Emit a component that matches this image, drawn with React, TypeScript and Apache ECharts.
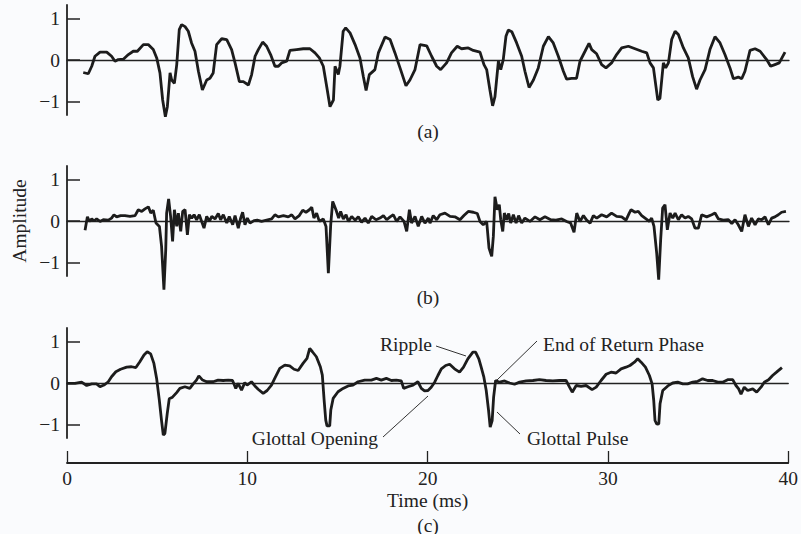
import React, { useEffect, useRef } from "react";
import * as echarts from "echarts";

// Time axis ticks (ms)
const timeTicks = [0, 10, 20, 30, 40];
const ampTicks = [-1, 0, 1];

// (a) speech waveform: [time (ms), amplitude]
const waveA: [number, number][] = [
  [0.9, -0.3], [1.18, -0.33], [1.37, -0.15], [1.55, 0.09], [1.83, 0.19], [2.2, 0.19], [2.47, 0.09], [2.66, -0.03],
  [2.84, 0.01], [3.12, 0.02], [3.4, 0.13], [3.67, 0.21], [3.9, 0.21], [4.23, 0.37], [4.5, 0.37], [4.78, 0.25],
  [4.97, 0.05], [5.15, -0.31], [5.3, -0.96], [5.45, -1.36], [5.56, -1.12], [5.71, -0.31], [5.8, -0.48], [5.95, -0.56],
  [6.08, -0.11], [6.22, 0.73], [6.35, 0.85], [6.54, 0.8], [6.72, 0.69], [6.9, 0.41], [7.09, 0.21], [7.28, -0.27],
  [7.5, -0.72], [7.74, -0.48], [7.92, -0.44], [8.1, -0.31], [8.29, 0.37], [8.57, 0.51], [8.85, 0.49], [9.12, 0.25],
  [9.31, -0.07], [9.55, -0.52], [9.77, -0.52], [10.05, -0.6], [10.23, -0.35], [10.42, 0.09], [10.6, 0.25], [10.84, 0.43],
  [11.06, 0.33], [11.28, 0.13], [11.52, -0.15], [11.71, -0.15], [11.89, -0.07], [12.17, -0.03], [12.35, 0.23], [12.72, 0.25],
  [13.09, 0.27], [13.46, 0.27], [13.74, 0.17], [13.98, 0.05], [14.2, -0.15], [14.39, -0.64], [14.57, -1.12], [14.76, -0.96],
  [14.85, -0.15], [15.03, -0.35], [15.12, -0.15], [15.3, 0.69], [15.44, 0.77], [15.68, 0.65], [15.96, 0.37], [16.23, 0.05],
  [16.42, -0.4], [16.57, -0.73], [16.75, -0.35], [17.06, -0.23], [17.25, 0.17], [17.62, 0.55], [17.9, 0.49], [18.17, 0.17],
  [18.45, -0.19], [18.78, -0.62], [19.0, -0.48], [19.28, -0.23], [19.56, 0.37], [19.93, 0.34], [20.2, 0.09], [20.48, -0.15],
  [20.7, -0.23], [21.03, -0.07], [21.3, 0.17], [21.62, 0.33], [21.86, 0.27], [22.23, 0.29], [22.51, 0.23], [22.88, 0.19],
  [23.1, -0.11], [23.25, -0.23], [23.43, -0.72], [23.58, -1.1], [23.71, -0.88], [23.9, -0.03], [24.03, -0.23], [24.17, 0.01],
  [24.32, 0.57], [24.45, 0.72], [24.64, 0.68], [24.91, 0.41], [25.19, 0.09], [25.37, -0.27], [25.6, -0.66], [25.84, -0.48],
  [26.11, -0.19], [26.39, 0.33], [26.67, 0.56], [26.94, 0.41], [27.22, 0.09], [27.5, -0.27], [27.68, -0.46], [27.96, -0.44],
  [28.23, -0.44], [28.42, -0.03], [28.7, 0.21], [28.92, 0.4], [29.07, 0.25], [29.34, 0.15], [29.62, -0.11], [29.86, -0.19],
  [30.17, -0.07], [30.45, 0.13], [30.73, 0.29], [31.1, 0.33], [31.47, 0.27], [31.84, 0.21], [32.12, 0.17], [32.3, -0.07],
  [32.49, -0.19], [32.63, -0.64], [32.73, -0.96], [32.85, -0.92], [33.04, -0.07], [33.17, -0.19], [33.32, -0.07], [33.5, 0.49],
  [33.69, 0.69], [33.87, 0.61], [34.15, 0.29], [34.42, 0.05], [34.66, -0.4], [34.88, -0.7], [35.07, -0.48], [35.35, -0.23],
  [35.62, 0.25], [35.9, 0.56], [36.18, 0.41], [36.45, 0.13], [36.73, -0.19], [36.92, -0.45], [37.19, -0.41], [37.38, -0.45],
  [37.56, -0.27], [37.84, 0.23], [38.12, 0.27], [38.4, 0.21], [38.76, 0.01], [38.98, -0.15], [39.22, -0.11], [39.46, -0.07],
  [39.78, 0.19],
];

// (b) residual / derivative signal
const waveB: [number, number][] = [
  [1.0, -0.22], [1.13, 0.1], [1.24, -0.01], [1.37, 0.05], [1.5, 0.0], [1.64, 0.05], [1.83, -0.01], [2.01, 0.03],
  [2.29, 0.02], [2.47, 0.07], [2.6, 0.15], [2.75, 0.1], [2.97, 0.13], [3.21, 0.13], [3.49, 0.11], [3.77, 0.13],
  [3.95, 0.27], [4.14, 0.23], [4.32, 0.29], [4.51, 0.34], [4.64, 0.19], [4.78, 0.26], [4.93, -0.05], [5.12, -0.13],
  [5.24, -0.61], [5.37, -1.65], [5.47, -0.69], [5.52, 0.19], [5.63, 0.53], [5.74, 0.11], [5.85, -0.49], [5.95, 0.27],
  [6.08, -0.13], [6.17, 0.19], [6.3, -0.25], [6.41, 0.23], [6.54, 0.27], [6.67, -0.33], [6.78, 0.15], [6.91, 0.07],
  [7.04, 0.15], [7.18, 0.03], [7.33, 0.15], [7.46, -0.01], [7.59, -0.17], [7.74, 0.11], [7.89, -0.01], [8.02, 0.11],
  [8.2, 0.05], [8.38, 0.18], [8.51, 0.03], [8.66, 0.15], [8.85, -0.05], [8.99, 0.11], [9.18, -0.09], [9.31, 0.13],
  [9.49, -0.17], [9.62, 0.07], [9.73, 0.21], [9.86, -0.09], [9.99, 0.07], [10.14, -0.05], [10.36, 0.01], [10.54, 0.02],
  [10.78, -0.01], [11.06, 0.02], [11.34, 0.05], [11.52, 0.15], [11.71, 0.1], [11.99, 0.13], [12.26, 0.1], [12.45, 0.15],
  [12.63, 0.05], [12.87, 0.13], [13.06, 0.26], [13.24, 0.21], [13.43, 0.27], [13.56, 0.33], [13.68, 0.07], [13.83, 0.19],
  [13.98, -0.01], [14.2, 0.05], [14.35, -0.13], [14.48, -1.25], [14.61, -0.09], [14.72, 0.47], [14.9, 0.27], [15.05, 0.07],
  [15.16, 0.23], [15.31, 0.05], [15.46, 0.15], [15.59, -0.01], [15.77, 0.11], [15.96, 0.02], [16.14, 0.1], [16.32, -0.03],
  [16.51, 0.07], [16.69, -0.05], [16.88, 0.11], [17.12, 0.03], [17.34, 0.07], [17.53, 0.13], [17.71, 0.03], [17.9, 0.1],
  [18.08, 0.15], [18.26, -0.01], [18.45, 0.1], [18.67, -0.01], [18.82, -0.25], [18.97, 0.27], [19.09, -0.05], [19.28, 0.11],
  [19.46, -0.13], [19.65, 0.11], [19.83, -0.05], [20.02, 0.07], [20.11, -0.05], [20.29, 0.13], [20.48, 0.03], [20.66, 0.15],
  [20.94, 0.19], [21.22, 0.11], [21.49, 0.1], [21.77, 0.03], [21.99, 0.13], [22.23, 0.23], [22.51, 0.21], [22.73, 0.18],
  [22.88, -0.01], [23.06, -0.09], [23.25, -0.01], [23.38, -0.65], [23.53, -0.85], [23.62, -0.37], [23.71, 0.58], [23.84, 0.27],
  [23.95, 0.39], [24.03, 0.03], [24.14, -0.25], [24.23, 0.19], [24.36, 0.03], [24.47, 0.18], [24.58, -0.05], [24.73, 0.15],
  [24.88, -0.05], [25.02, 0.13], [25.19, -0.05], [25.37, 0.07], [25.65, -0.01], [25.93, 0.1], [26.2, 0.03], [26.48, 0.1],
  [26.8, 0.03], [27.09, 0.02], [27.41, 0.05], [27.68, -0.01], [27.9, -0.05], [28.09, -0.27], [28.24, 0.19], [28.42, -0.01],
  [28.61, 0.13], [28.79, 0.02], [28.98, -0.05], [29.16, 0.13], [29.35, 0.07], [29.62, 0.15], [29.9, 0.1], [30.17, 0.19],
  [30.45, 0.11], [30.73, 0.1], [30.97, 0.02], [31.15, 0.19], [31.25, 0.27], [31.47, 0.21], [31.65, 0.23], [31.84, 0.13],
  [32.08, 0.05], [32.26, -0.01], [32.39, 0.07], [32.52, -0.13], [32.67, -0.77], [32.78, -1.41], [32.89, -0.45], [33.0, 0.31],
  [33.13, 0.39], [33.26, -0.21], [33.41, 0.19], [33.56, 0.07], [33.69, 0.19], [33.87, 0.03], [34.05, 0.15], [34.24, 0.07],
  [34.42, 0.11], [34.61, 0.05], [34.79, -0.17], [34.98, -0.17], [35.16, 0.15], [35.44, 0.1], [35.72, 0.15], [35.9, 0.19],
  [36.09, 0.05], [36.36, 0.02], [36.64, 0.03], [36.83, -0.06], [37.01, 0.03], [37.19, -0.09], [37.38, -0.25], [37.56, 0.15],
  [37.75, -0.13], [37.93, 0.07], [38.12, -0.09], [38.3, 0.05], [38.49, 0.03], [38.67, 0.1], [38.86, -0.09], [39.04, 0.07],
  [39.22, 0.1], [39.41, 0.15], [39.59, 0.21], [39.83, 0.23],
];

// (c) glottal flow derivative estimate
const waveC: [number, number][] = [
  [0.0, -0.01], [0.44, -0.01], [0.81, 0.02], [1.09, -0.06], [1.37, -0.02], [1.64, -0.02], [1.83, -0.09], [2.05, -0.05],
  [2.29, 0.03], [2.47, 0.15], [2.71, 0.27], [2.97, 0.33], [3.31, 0.38], [3.58, 0.39], [3.82, 0.37], [4.04, 0.51],
  [4.27, 0.67], [4.45, 0.75], [4.64, 0.7], [4.82, 0.47], [4.97, 0.11], [5.12, -0.41], [5.24, -0.89], [5.34, -1.25],
  [5.43, -1.21], [5.56, -0.73], [5.67, -0.38], [5.85, -0.34], [6.08, -0.23], [6.26, -0.13], [6.54, -0.09], [6.81, -0.13],
  [7.0, -0.02], [7.18, 0.07], [7.31, 0.17], [7.52, 0.07], [7.74, 0.03], [8.1, 0.03], [8.38, 0.07], [8.66, 0.06],
  [8.94, 0.07], [9.18, 0.06], [9.36, -0.13], [9.49, -0.01], [9.68, -0.17], [9.86, 0.01], [9.99, -0.05], [10.23, 0.03],
  [10.42, -0.07], [10.6, -0.15], [10.88, -0.25], [11.1, -0.18], [11.34, -0.05], [11.52, 0.11], [11.8, 0.35], [12.08, 0.43],
  [12.35, 0.41], [12.59, 0.33], [12.82, 0.3], [13.09, 0.47], [13.31, 0.59], [13.46, 0.83], [13.61, 0.75], [13.83, 0.63],
  [14.05, 0.39], [14.16, 0.19], [14.26, -0.41], [14.35, -0.89], [14.42, -1.03], [14.57, -1.03], [14.63, -0.65], [14.76, -0.37],
  [15.03, -0.21], [15.31, -0.13], [15.59, -0.07], [15.86, -0.05], [16.14, 0.03], [16.51, 0.07], [16.88, 0.07], [17.16, 0.11],
  [17.43, 0.07], [17.71, 0.11], [17.99, 0.06], [18.26, 0.07], [18.54, 0.05], [18.67, -0.13], [18.91, -0.09], [19.19, -0.05],
  [19.46, 0.03], [19.65, -0.13], [19.83, -0.19], [20.02, -0.18], [20.2, -0.1], [20.39, 0.02], [20.57, 0.18], [20.76, 0.34],
  [21.0, 0.42], [21.22, 0.45], [21.49, 0.34], [21.77, 0.26], [21.99, 0.38], [22.23, 0.58], [22.51, 0.74], [22.66, 0.74],
  [22.84, 0.58], [22.97, 0.38], [23.12, 0.14], [23.25, -0.18], [23.38, -0.66], [23.47, -1.06], [23.58, -0.9], [23.66, -0.34],
  [23.77, 0.06], [23.99, 0.02], [24.27, 0.05], [24.54, 0.0], [24.82, -0.03], [25.1, 0.02], [25.47, 0.05], [25.84, 0.06],
  [26.2, 0.08], [26.57, 0.06], [26.94, 0.05], [27.31, 0.06], [27.68, 0.06], [27.87, -0.1], [28.02, -0.22], [28.24, -0.06],
  [28.51, -0.08], [28.79, -0.06], [29.12, -0.16], [29.35, -0.1], [29.62, 0.06], [29.9, 0.21], [30.17, 0.26], [30.45, 0.24],
  [30.73, 0.34], [31.0, 0.38], [31.22, 0.42], [31.47, 0.5], [31.65, 0.58], [31.84, 0.5], [32.08, 0.38], [32.3, 0.18],
  [32.45, -0.02], [32.54, -0.42], [32.61, -0.9], [32.71, -0.99], [32.82, -0.98], [32.89, -0.5], [33.04, -0.18], [33.32, -0.07],
  [33.59, 0.0], [33.87, 0.02], [34.15, -0.02], [34.42, -0.02], [34.7, 0.02], [34.98, 0.04], [35.25, 0.1], [35.53, 0.06],
  [35.81, 0.06], [36.09, 0.02], [36.36, 0.02], [36.64, 0.08], [36.92, 0.08], [37.1, -0.06], [37.25, -0.14], [37.38, -0.27],
  [37.56, -0.1], [37.75, -0.18], [38.03, -0.14], [38.25, -0.22], [38.49, -0.1], [38.67, 0.02], [38.91, 0.08], [39.13, 0.18],
  [39.35, 0.26], [39.65, 0.37],
];

const panelLabels = ["(a)", "(b)", "(c)"];
const annotations = ["Ripple", "End of Return Phase", "Glottal Opening", "Glottal Pulse"];

const FONT = "Liberation Serif";
const FS = 19.5;
const INK = "#222222";
const BG = "#fafbfd";

export default function App() {
  const ref = useRef<HTMLDivElement>(null);
  useEffect(() => {
    if (!ref.current) return;
    const chart = echarts.init(ref.current, null, { renderer: "svg" });
    const grids = [
      { left: 67, width: 722, top: 5, height: 110 },
      { left: 67, width: 722, top: 166, height: 110 },
      { left: 67, width: 722, top: 328, height: 110 },
    ];
    const zeroX = (i: number) => ({
      gridIndex: i,
      type: "value",
      min: 0,
      max: 40,
      position: "bottom",
      axisLine: { show: true, onZero: true, lineStyle: { color: INK, width: 1.3 } },
      axisTick: { show: false },
      axisLabel: { show: false },
      splitLine: { show: false },
    });
    const yAx = (i: number) => ({
      gridIndex: i,
      type: "value",
      min: -1.32,
      max: 1.32,
      axisLine: { show: true, onZero: false, lineStyle: { color: INK, width: 1.8 } },
      axisTick: { show: true, inside: true, length: 13, customValues: ampTicks, lineStyle: { color: INK, width: 1.5 } },
      axisLabel: {
        show: true,
        customValues: ampTicks,
        margin: 7,
        color: INK,
        fontFamily: FONT,
        fontSize: FS,
        formatter: (v: number) => (v < 0 ? "\u2212" + Math.abs(v) : String(v)),
      },
      splitLine: { show: false },
    });
    const lineSeries = (i: number, data: [number, number][]) => ({
      type: "line",
      xAxisIndex: i,
      yAxisIndex: i,
      data,
      showSymbol: false,
      symbol: "none",
      clip: false,
      lineStyle: { color: "#1c1c1c", width: 2.8 },
      silent: true,
    });
    const txt = (text: string, x: number, y: number, align: string) => ({
      type: "text",
      x,
      y,
      silent: true,
      style: { text, fill: INK, font: `${FS}px "${FONT}"`, textAlign: align, textVerticalAlign: "middle" },
    });
    const lead = (x1: number, y1: number, x2: number, y2: number) => ({
      type: "line",
      silent: true,
      shape: { x1, y1, x2, y2 },
      style: { stroke: "#333", lineWidth: 1 },
    });
    chart.setOption({
      animation: false,
      backgroundColor: BG,
      grid: grids,
      xAxis: [
        zeroX(0),
        zeroX(1),
        zeroX(2),
        {
          gridIndex: 2,
          type: "value",
          min: 0,
          max: 40,
          interval: 10,
          position: "bottom",
          offset: 25,
          axisLine: { show: true, onZero: false, lineStyle: { color: INK, width: 1.8 } },
          axisTick: { show: true, inside: true, length: 12, customValues: timeTicks, lineStyle: { color: INK, width: 1.3 } },
          axisLabel: { show: true, customValues: timeTicks, margin: 5, color: INK, fontFamily: FONT, fontSize: FS },
          splitLine: { show: false },
          name: "Time (ms)",
          nameLocation: "middle",
          nameGap: 27,
          nameTextStyle: { color: INK, fontFamily: FONT, fontSize: FS },
        },
      ],
      yAxis: [yAx(0), yAx(1), yAx(2)],
      series: [lineSeries(0, waveA), lineSeries(1, waveB), lineSeries(2, waveC)],
      graphic: [
        {
          type: "text",
          x: 19,
          y: 221,
          rotation: Math.PI / 2,
          silent: true,
          style: { text: "Amplitude", fill: INK, font: `${FS}px "${FONT}"`, textAlign: "center", textVerticalAlign: "middle" },
        },
        txt(panelLabels[0], 428, 131, "center"),
        txt(panelLabels[1], 428, 297, "center"),
        txt(panelLabels[2], 428, 525, "center"),
        txt(annotations[0], 380, 344, "left"),
        txt(annotations[1], 543, 344, "left"),
        txt(annotations[2], 378, 438, "right"),
        txt(annotations[3], 527, 438, "left"),
        lead(436, 346, 466, 356),
        lead(537, 341, 497, 380),
        lead(383, 437, 428, 396),
        lead(520, 434, 497, 412),
      ],
    });
    return () => chart.dispose();
  }, []);
  return (
    <div
      ref={ref}
      style={{ position: "fixed", left: 0, top: 0, width: 801, height: 534, background: BG }}
    />
  );
}
